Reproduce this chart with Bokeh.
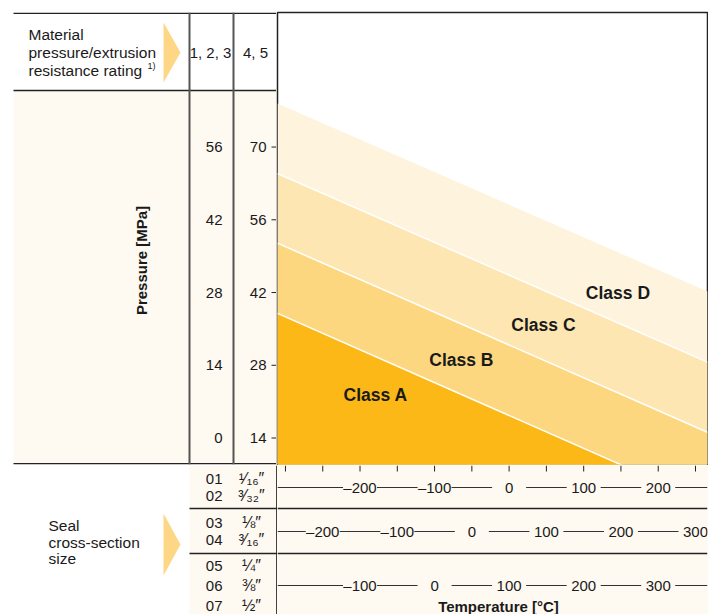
import numpy as np
from bokeh.plotting import figure
from bokeh.layouts import column, row
from bokeh.models import Range1d
from bokeh.core.properties import value
from bokeh.embed import file_html
from bokeh.resources import INLINE

# ---------------- data ----------------
classes = ["Class A", "Class B", "Class C", "Class D"]
class_colors = ["#FBB817", "#FCD77F", "#FDE6B2", "#FEF3DD"]
# upper limit of each class (MPa, rating 4,5 scale) at the left / right end of the temperature axis
class_top_left = [38.0, 51.5, 64.9, 78.4]
class_top_right = [1.5, 15.1, 28.6, 42.2]
class_label_t = [-179, -64, 46, 146]
class_label_p = [22.2, 29.0, 35.7, 42.0]

pressure_ticks = [14, 28, 42, 56, 70]
pressure_labels_45 = ["14", "28", "42", "56", "70"]
pressure_labels_123 = ["0", "14", "28", "42", "56"]

temp_ticks = [-300, -250, -200, -150, -100, -50, 0, 50, 100, 150, 200, 250]
row_offsets = [0, 50, 100]
row_temp_labels = [[-200, -100, 0, 100, 200],
                   [-200, -100, 0, 100, 200, 300],
                   [-100, 0, 100, 200, 300]]
size_codes = [["01", "02"], ["03", "04"], ["05", "06", "07"]]
size_inches = [["¹⁄₁₆″", "³⁄₃₂″"], ["⅛″", "³⁄₁₆″"], ["¼″", "⅜″", "½″"]]

T_MIN, T_MAX = -310.7, 266.1
P_MIN, P_MAX = 8.9, 95.9

# ---------------- style ----------------
FONT = value("Liberation Sans")
INK = "#1a1a1a"
CREAM = "#FEF9F1"
ARROW = "#FDD785"
LINE = "#222222"
COL_LINE = "#555555"


def base_fig(**kw):
    f = figure(toolbar_location=None, output_backend="svg", title=None,
               x_axis_location=None, y_axis_location=None, **kw)
    f.grid.visible = False
    return f


# ---------------- main chart ----------------
p = base_fig(width=432, height=465,
             x_range=Range1d(T_MIN, T_MAX), y_range=Range1d(P_MIN, P_MAX),
             min_border_left=1, min_border_right=1, min_border_top=12, min_border_bottom=1,
             background_fill_color="white", border_fill_color="white",
             outline_line_color=LINE, outline_line_width=1.5)

for k in [3, 2, 1, 0]:
    p.patch(x=[T_MIN, T_MIN, T_MAX, T_MAX],
            y=[P_MIN - 20, class_top_left[k], class_top_right[k], P_MIN - 20],
            fill_color=class_colors[k], line_color=None)
p.segment(x0=[T_MIN] * 3, y0=class_top_left[:3], x1=[T_MAX] * 3, y1=class_top_right[:3],
          line_color="white", line_width=1.5)
p.text(x=class_label_t, y=class_label_p, text=classes, text_font=FONT,
       text_font_size="17.5px", text_font_style="bold", text_color=INK,
       text_align="center", text_baseline="middle")

# ---------------- left panel (header + pressure scales) ----------------
# its frame is aligned with the main chart frame (page y 12..464)
pl = base_fig(width=276, height=465, x_range=Range1d(0, 276), y_range=Range1d(464, 12),
              min_border_left=0, min_border_right=0, min_border_top=12, min_border_bottom=1,
              background_fill_color="white", border_fill_color="white",
              outline_line_color=None)
pl.extra_y_ranges = {"pressure": p.y_range}

pl.quad(left=13, right=276, top=90, bottom=464, fill_color=CREAM, line_color=None)
pl.segment(x0=[13, 13, 13], y0=[12.7, 90, 463.3], x1=[276, 276, 276], y1=[12.7, 90, 463.3],
           line_color=LINE, line_width=1.5)
pl.segment(x0=[189, 233], y0=[12, 12], x1=[189, 233], y1=[464, 464],
           line_color=COL_LINE, line_width=2)

pl.text(x=[28, 28, 28], y=[34, 52, 70],
        text=["Material", "pressure/extrusion", "resistance rating"],
        text_font=FONT, text_font_size="15.5px", text_color=INK,
        text_align="left", text_baseline="middle")
pl.text(x=[147], y=[65], text=["1)"], text_font=FONT, text_font_size="9px",
        text_color=INK, text_align="left", text_baseline="middle")
pl.patch(x=[163, 180, 163], y=[22, 52, 82], fill_color=ARROW, line_color=None)
pl.text(x=[210, 255], y=[52, 52], text=["1, 2, 3", "4, 5"], text_font=FONT,
        text_font_size="15px", text_color=INK, text_align="center", text_baseline="middle")

pl.text(x=[141], y=[260], text=["Pressure [MPa]"], angle=np.pi / 2, text_font=FONT,
        text_font_size="15px", text_font_style="bold", text_color=INK,
        text_align="center", text_baseline="middle")

pl.text(x=[222] * 5, y=pressure_ticks, text=pressure_labels_123, y_range_name="pressure",
        text_font=FONT, text_font_size="15px", text_color=INK,
        text_align="right", text_baseline="middle")
pl.text(x=[266] * 5, y=pressure_ticks, text=pressure_labels_45, y_range_name="pressure",
        text_font=FONT, text_font_size="15px", text_color=INK,
        text_align="right", text_baseline="middle")
pl.segment(x0=[271] * 5, y0=pressure_ticks, x1=[276] * 5, y1=pressure_ticks,
           y_range_name="pressure", line_color=LINE, line_width=1)

# ---------------- bottom left (seal sizes) ----------------
pbl = base_fig(width=277, height=149, x_range=Range1d(0, 277), y_range=Range1d(614, 465),
               min_border=0, background_fill_color="white", border_fill_color="white",
               outline_line_color=None)
pbl.quad(left=189, right=277, top=465, bottom=614, fill_color=CREAM, line_color=None)
pbl.segment(x0=[189, 189], y0=[508, 553], x1=[277, 277], y1=[508, 553],
            line_color=LINE, line_width=1.5)
pbl.segment(x0=[276.4], y0=[465], x1=[276.4], y1=[614], line_color=LINE, line_width=1.5)

row_code_y = [[478, 495], [522, 539], [565, 585, 605]]
for codes, inches, ys in zip(size_codes, size_inches, row_code_y):
    pbl.text(x=[222] * len(codes), y=ys, text=codes, text_font=FONT, text_font_size="15px",
             text_color=INK, text_align="right", text_baseline="middle")
    pbl.text(x=[251] * len(inches), y=ys, text=inches, text_font=FONT, text_font_size="16px",
             text_color=INK, text_align="center", text_baseline="middle")

pbl.text(x=[48, 48, 48], y=[525, 542, 558], text=["Seal", "cross-section", "size"],
         text_font=FONT, text_font_size="15.5px", text_color=INK,
         text_align="left", text_baseline="middle")
pbl.patch(x=[163, 180, 163], y=[513, 544, 575], fill_color=ARROW, line_color=None)

# ---------------- bottom right (temperature scales) ----------------
pb = base_fig(width=431, height=149, x_range=p.x_range, y_range=Range1d(614, 465),
              min_border_left=0, min_border_right=1, min_border_top=0, min_border_bottom=0,
              background_fill_color=CREAM, border_fill_color=CREAM, outline_line_color=None)

pb.segment(x0=temp_ticks, y0=[465] * len(temp_ticks), x1=temp_ticks, y1=[471] * len(temp_ticks),
           line_color=LINE, line_width=1)
pb.segment(x0=[T_MIN, T_MIN], y0=[508, 553], x1=[T_MAX, T_MAX], y1=[508, 553],
           line_color=LINE, line_width=1.5)

row_line_y = [487, 531, 585]
for off, labels, yy in zip(row_offsets, row_temp_labels, row_line_y):
    pb.segment(x0=[T_MIN], y0=[yy], x1=[T_MAX], y1=[yy], line_color="#333333", line_width=1)
    xs = [t - off for t in labels]
    pb.rect(x=xs, y=[yy] * len(xs), width=34, height=16, width_units="screen",
            height_units="screen", fill_color=CREAM, line_color=None)
    txt = [("–" + str(-t)) if t < 0 else str(t) for t in labels]
    pb.text(x=xs, y=[yy] * len(xs), text=txt, text_font=FONT, text_font_size="15px",
            text_color=INK, text_align="center", text_baseline="middle")

t_center = T_MIN + (498 - 277) / 430.0 * (T_MAX - T_MIN)
pb.text(x=[t_center], y=[606], text=["Temperature [°C]"], text_font=FONT,
        text_font_size="15px", text_font_style="bold", text_color=INK,
        text_align="center", text_baseline="middle")

layout = column(row(pl, p, spacing=0), row(pbl, pb, spacing=0), spacing=0)

open("out.html", "w").write(file_html(layout, INLINE))
